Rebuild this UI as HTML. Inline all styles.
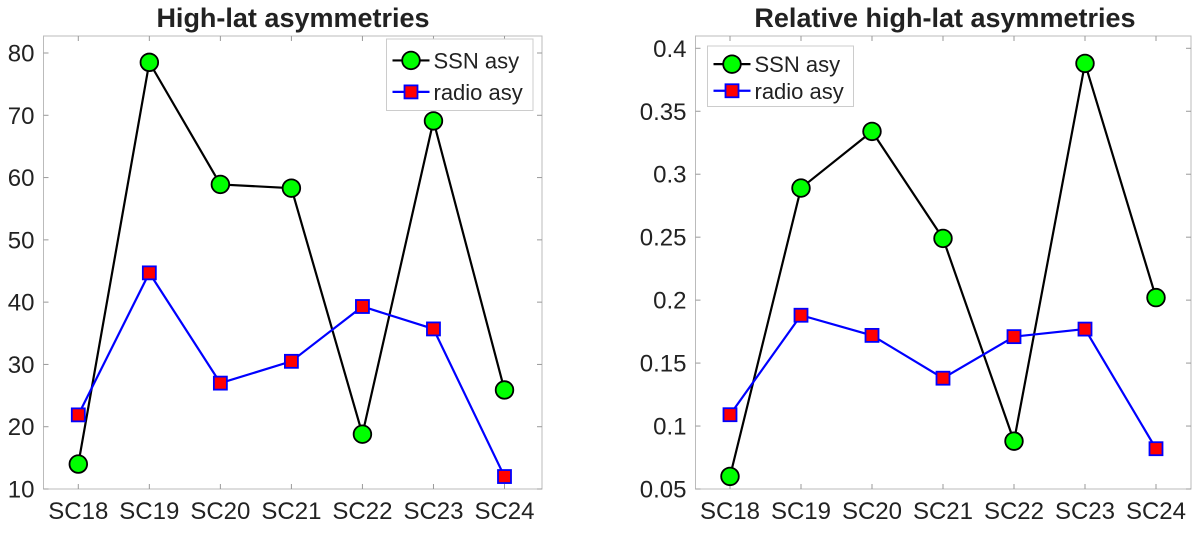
<!DOCTYPE html>
<html><head><meta charset="utf-8"><style>
body{margin:0;background:#fff;}
svg text{font-family:"Liberation Sans",sans-serif;fill:#222;}
</style></head><body>
<svg id="c" width="1200" height="530"></svg>
<script>
const categories=["SC18","SC19","SC20","SC21","SC22","SC23","SC24"];
const ssnAbs=[14,78.5,58.9,58.3,18.8,69.1,25.9];
const radioAbs=[21.9,44.7,27,30.5,39.3,35.7,12];
const ssnRel=[0.06,0.289,0.334,0.249,0.088,0.388,0.202];
const radioRel=[0.109,0.188,0.172,0.138,0.171,0.177,0.082];
const ticksAbs=[10,20,30,40,50,60,70,80];
const ticksRel=[0.05,0.1,0.15,0.2,0.25,0.3,0.35,0.4];
const ticksRelLabels=["0.05","0.1","0.15","0.2","0.25","0.3","0.35","0.4"];
const NS="http://www.w3.org/2000/svg";
const svg=document.getElementById('c');
function mk(t,a,p){const e=document.createElementNS(NS,t);for(const k in a)e.setAttribute(k,a[k]);(p||svg).appendChild(e);return e;}
function panel(o){
 const g=mk('g',{});
 
 
 const X=i=>o.x0+(o.x1-o.x0)*i/(categories.length-1);
 const Y=v=>o.yb-(o.yb-o.yt)*(v-o.ymin)/(o.ymax-o.ymin);
 const box=mk('rect',{x:o.L,y:o.T,width:o.R-o.L,height:o.B-o.T,fill:'none',stroke:'#bbb','stroke-width':1},g);
 
 
 o.ticks.forEach((t,i)=>{
  const y=Y(t);
  mk('line',{x1:o.L,x2:o.L+5,y1:y,y2:y,stroke:'#999'},g);
  mk('line',{x1:o.R,x2:o.R-5,y1:y,y2:y,stroke:'#999'},g);
  const tx=mk('text',{x:o.L-9,y:y+8.5,'text-anchor':'end','font-size':24},g);
  tx.textContent=o.labels[i];
  
  
 });
 categories.forEach((c,i)=>{
  const x=X(i);
  mk('line',{x1:x,x2:x,y1:o.B,y2:o.B-5,stroke:'#999'},g);
  mk('line',{x1:x,x2:x,y1:o.T,y2:o.T+5,stroke:'#999'},g);
  const tx=mk('text',{x:x,y:o.B+30,'text-anchor':'middle','font-size':24},g);
  tx.textContent=c;
  
  
 });
 const tt=mk('text',{x:o.tc,y:27,'text-anchor':'middle','font-size':27,'font-weight':'bold'},g);
 tt.textContent=o.title;
 
 
 const pl=mk('polyline',{points:o.ssn.map((v,i)=>X(i)+','+Y(v)).join(' '),fill:'none',stroke:'#000','stroke-width':2.2},g);
 
 
 const pr=mk('polyline',{points:o.radio.map((v,i)=>X(i)+','+Y(v)).join(' '),fill:'none',stroke:'#00f','stroke-width':2.2},g);
 
 
 o.ssn.forEach((v,i)=>{const c=mk('circle',{cx:X(i),cy:Y(v),r:8.8,fill:'#0f0',stroke:'#000','stroke-width':1.8},g);
  
  });
 o.radio.forEach((v,i)=>{const r=mk('rect',{x:X(i)-6.5,y:Y(v)-6.5,width:13,height:13,fill:'#f00',stroke:'#00f','stroke-width':1.8},g);
  
  });
 const lg=mk('g',{},g);
 
 
 const l=o.leg;
 mk('rect',{x:l[0],y:l[1],width:l[2],height:l[3],fill:'#fff',stroke:'#ccc'},lg);
 const y1=l[1]+l[3]*0.3,y2=l[1]+l[3]*0.74;
 mk('line',{x1:l[0]+6,x2:l[0]+43,y1:y1,y2:y1,stroke:'#000','stroke-width':2.2},lg);
 mk('circle',{cx:l[0]+24.5,cy:y1,r:8.8,fill:'#0f0',stroke:'#000','stroke-width':1.8},lg);
 mk('line',{x1:l[0]+6,x2:l[0]+43,y1:y2,y2:y2,stroke:'#00f','stroke-width':2.2},lg);
 mk('rect',{x:l[0]+18,y:y2-6.5,width:13,height:13,fill:'#f00',stroke:'#00f','stroke-width':1.8},lg);
 const a=mk('text',{x:l[0]+47,y:y1+8,'font-size':22},lg);a.textContent='SSN asy';
 
 
 const b=mk('text',{x:l[0]+47,y:y2+8,'font-size':22},lg);b.textContent='radio asy';
 
 
}
panel({name:'left-chart',L:43.5,R:542,T:36,B:489,x0:78.3,x1:504.5,yt:53,yb:489,ymin:10,ymax:80,ticks:ticksAbs,labels:ticksAbs.map(String),title:'High-lat asymmetries',tc:293,ssn:ssnAbs,radio:radioAbs,leg:[386.5,39,146.5,71.5]});
panel({name:'right-chart',L:695.5,R:1191,T:36,B:489,x0:730,x1:1156,yt:48.3,yb:489,ymin:0.05,ymax:0.4,ticks:ticksRel,labels:ticksRelLabels,title:'Relative high-lat asymmetries',tc:945,ssn:ssnRel,radio:radioRel,leg:[707.5,46,146,60.5]});
</script>
</body></html>
